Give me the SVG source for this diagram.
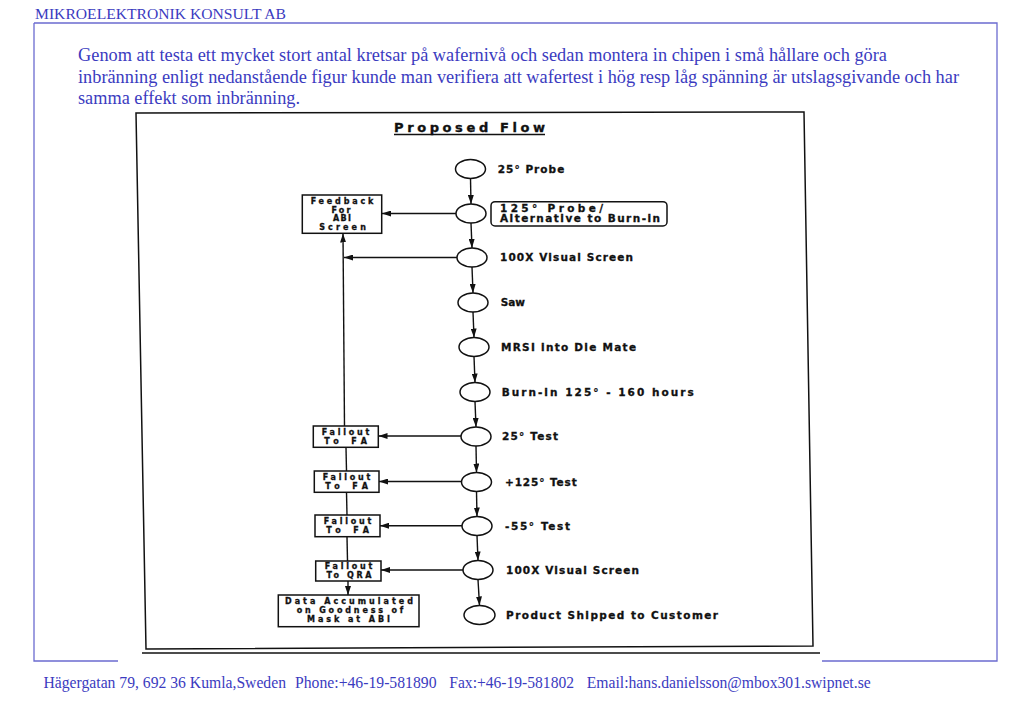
<svg xmlns="http://www.w3.org/2000/svg" width="1023" height="708" viewBox="0 0 1023 708">
<style>
.blue{fill:#3b3bbf;font-family:"Liberation Serif","Times New Roman",serif}
.frame{fill:none;stroke:#6b6bd0;stroke-width:1.3}
.scan{fill:none;stroke:#111;stroke-width:1.5}
.el{fill:#fff;stroke:#111;stroke-width:1.5}
.box{fill:#fff;stroke:#111;stroke-width:1.5}
.lbl{fill:#111;font-family:"DejaVu Sans","Liberation Sans",sans-serif;font-weight:bold;font-size:10.5px;stroke:#111;stroke-width:0.3}
.bt{fill:#111;font-family:"DejaVu Sans","Liberation Sans",sans-serif;font-weight:bold;font-size:8px;text-anchor:middle;stroke:#111;stroke-width:0.3}
.ttl{fill:#111;font-family:"DejaVu Sans","Liberation Sans",sans-serif;font-weight:bold;font-size:13px;stroke:#111;stroke-width:0.35}
.c{fill:none;stroke:#111;stroke-width:1.4}
</style>
<defs>
<marker id="ah" markerUnits="userSpaceOnUse" markerWidth="10" markerHeight="6" refX="9" refY="3" orient="auto">
<path d="M0,0 L9,3 L0,6 z" fill="#111"/>
</marker>
</defs>
<rect width="1023" height="708" fill="#fff"/>

<g id="page">
<text class="blue" x="35" y="19.3" font-size="14" textLength="251" lengthAdjust="spacingAndGlyphs">MIKROELEKTRONIK KONSULT AB</text>
<path class="frame" d="M34,23 H997 V661 H822 M118,661 H34 V23"/>
<text class="blue" x="78" y="61" font-size="19" textLength="809" lengthAdjust="spacingAndGlyphs">Genom att testa ett mycket stort antal kretsar på wafernivå och sedan montera in chipen i små hållare och göra</text>
<text class="blue" x="78" y="82.5" font-size="19" textLength="881" lengthAdjust="spacingAndGlyphs">inbränning enligt nedanstående figur kunde man verifiera att wafertest i hög resp låg spänning är utslagsgivande och har</text>
<text class="blue" x="78" y="104" font-size="19" textLength="222" lengthAdjust="spacingAndGlyphs">samma effekt som inbränning.</text>
<text class="blue" x="43.5" y="688.3" font-size="16" textLength="242.5" lengthAdjust="spacingAndGlyphs">Hägergatan 79, 692 36 Kumla,Sweden</text>
<text class="blue" x="295" y="688.3" font-size="16" textLength="141.5" lengthAdjust="spacingAndGlyphs">Phone:+46-19-581890</text>
<text class="blue" x="449.3" y="688.3" font-size="16" textLength="124.7" lengthAdjust="spacingAndGlyphs">Fax:+46-19-581802</text>
<text class="blue" x="586.7" y="688.3" font-size="16" textLength="284" lengthAdjust="spacingAndGlyphs">Email:hans.danielsson@mbox301.swipnet.se</text>
</g>

<g id="scan-frame">
<path class="scan" d="M136,113 L804,112 L813,646 L146,649 Z"/>
<path class="scan" d="M142,653 L820,653" stroke-width="1.2"/>
<text class="ttl" x="394" y="131.5" textLength="151" lengthAdjust="spacing">Proposed Flow</text>
<path class="c" d="M394,134.5 H545"/>
</g>

<g id="connectors">
<path class="c" marker-end="url(#ah)" d="M470.5,178.5 L471,204"/>
<path class="c" marker-end="url(#ah)" d="M471,223 L472,248"/>
<path class="c" marker-end="url(#ah)" d="M472,267 L473,293"/>
<path class="c" marker-end="url(#ah)" d="M473,312 L474,337.5"/>
<path class="c" marker-end="url(#ah)" d="M474,356.5 L475,382.5"/>
<path class="c" marker-end="url(#ah)" d="M475,401.5 L476,427"/>
<path class="c" marker-end="url(#ah)" d="M476,446 L476.5,472.5"/>
<path class="c" marker-end="url(#ah)" d="M476.5,491.5 L477,516.5"/>
<path class="c" marker-end="url(#ah)" d="M477,535.5 L478,560.5"/>
<path class="c" marker-end="url(#ah)" d="M478,579.5 L479.5,605.5"/>
<path class="c" marker-end="url(#ah)" d="M456,213.5 H382"/>
<path class="c" marker-end="url(#ah)" d="M457,257.5 H344"/>
<path class="c" marker-end="url(#ah)" d="M344.5,426 L343,233.5"/>
<path class="c" marker-end="url(#ah)" d="M461,436 H378.5"/>
<path class="c" d="M346,447.3 L346.5,471"/>
<path class="c" marker-end="url(#ah)" d="M461.5,481.5 H379"/>
<path class="c" d="M346.5,492.3 L347,515"/>
<path class="c" marker-end="url(#ah)" d="M462,525.7 H380"/>
<path class="c" d="M347,536.7 L347.5,561"/>
<path class="c" marker-end="url(#ah)" d="M463,570 H381"/>
<path class="c" marker-end="url(#ah)" d="M348,581 L348,595"/>
</g>

<g id="n-probe25"><ellipse class="el" cx="470.5" cy="169" rx="15" ry="9.5"/><text class="lbl" x="497.7" y="172.7" textLength="66.6" lengthAdjust="spacing">25° Probe</text></g>
<g id="n-probe125"><ellipse class="el" cx="471" cy="213.5" rx="15" ry="9.5"/><rect class="box" x="491" y="201.7" width="176" height="24.3" rx="4"/><text class="lbl" x="500" y="211.7" textLength="103" lengthAdjust="spacing">125° Probe/</text><text class="lbl" x="500" y="222.2" textLength="160" lengthAdjust="spacing">Alternative to Burn-in</text></g>
<g id="n-visual1"><ellipse class="el" cx="472" cy="257.5" rx="15" ry="9.5"/><text class="lbl" x="500" y="261.2" textLength="133" lengthAdjust="spacing">100X Visual Screen</text></g>
<g id="n-saw"><ellipse class="el" cx="473" cy="302.5" rx="15" ry="9.5"/><text class="lbl" x="500.7" y="306.2" textLength="24.3" lengthAdjust="spacing">Saw</text></g>
<g id="n-mrsi"><ellipse class="el" cx="474" cy="347" rx="15" ry="9.5"/><text class="lbl" x="501" y="350.7" textLength="135" lengthAdjust="spacing">MRSI into Die Mate</text></g>
<g id="n-burnin"><ellipse class="el" cx="475" cy="392" rx="15" ry="9.5"/><text class="lbl" x="501.7" y="395.7" textLength="192" lengthAdjust="spacing">Burn-in 125° - 160 hours</text></g>
<g id="n-test25"><ellipse class="el" cx="476" cy="436.5" rx="15" ry="9.5"/><text class="lbl" x="502" y="440.2" textLength="56" lengthAdjust="spacing">25° Test</text></g>
<g id="n-test125"><ellipse class="el" cx="476.5" cy="482" rx="15" ry="9.5"/><text class="lbl" x="505" y="485.7" textLength="71.7" lengthAdjust="spacing">+125° Test</text></g>
<g id="n-test55"><ellipse class="el" cx="477" cy="526" rx="15" ry="9.5"/><text class="lbl" x="505" y="529.7" textLength="65" lengthAdjust="spacing">-55° Test</text></g>
<g id="n-visual2"><ellipse class="el" cx="478" cy="570" rx="15" ry="9.5"/><text class="lbl" x="506" y="573.7" textLength="133" lengthAdjust="spacing">100X Visual Screen</text></g>
<g id="n-shipped"><ellipse class="el" cx="479.5" cy="615" rx="15.5" ry="9.5"/><text class="lbl" x="506" y="618.7" textLength="212" lengthAdjust="spacing">Product Shipped to Customer</text></g>

<g id="n-feedback"><rect class="box" x="302.3" y="195" width="79.4" height="38.3"/><text class="bt" x="342" y="204" textLength="62.7" lengthAdjust="spacing">Feedback</text><text class="bt" x="341" y="212.7" textLength="19" lengthAdjust="spacing">For</text><text class="bt" x="342" y="221.4" textLength="18" lengthAdjust="spacing">ABI</text><text class="bt" x="342.5" y="230.2" textLength="46.7" lengthAdjust="spacing">Screen</text></g>
<g id="n-fallout1"><rect class="box" x="313.3" y="426" width="65" height="21.3"/><text class="bt" x="345.5" y="434.7" textLength="47.6" lengthAdjust="spacing">Fallout</text><text class="bt" x="345.5" y="444.3" textLength="42.7" lengthAdjust="spacing">To FA</text></g>
<g id="n-fallout2"><rect class="box" x="314.3" y="471" width="64.7" height="21.3"/><text class="bt" x="346.5" y="479.7" textLength="47.6" lengthAdjust="spacing">Fallout</text><text class="bt" x="346.5" y="489.3" textLength="42.7" lengthAdjust="spacing">To FA</text></g>
<g id="n-fallout3"><rect class="box" x="315" y="515" width="65" height="21.7"/><text class="bt" x="347.5" y="523.7" textLength="47.6" lengthAdjust="spacing">Fallout</text><text class="bt" x="347.5" y="533.3" textLength="42.7" lengthAdjust="spacing">To FA</text></g>
<g id="n-fallout4"><rect class="box" x="315.7" y="561" width="65.3" height="20"/><text class="bt" x="348.5" y="569.3" textLength="47.6" lengthAdjust="spacing">Fallout</text><text class="bt" x="349" y="578.3" textLength="45" lengthAdjust="spacing">To QRA</text></g>
<g id="n-data"><rect class="box" x="278.3" y="595" width="140.7" height="31.7"/><text class="bt" x="349" y="604.3" textLength="128" lengthAdjust="spacing">Data Accumulated</text><text class="bt" x="350" y="613.1" textLength="106.7" lengthAdjust="spacing">on Goodness of</text><text class="bt" x="348.5" y="622" textLength="83" lengthAdjust="spacing">Mask at ABI</text></g>
</svg>
